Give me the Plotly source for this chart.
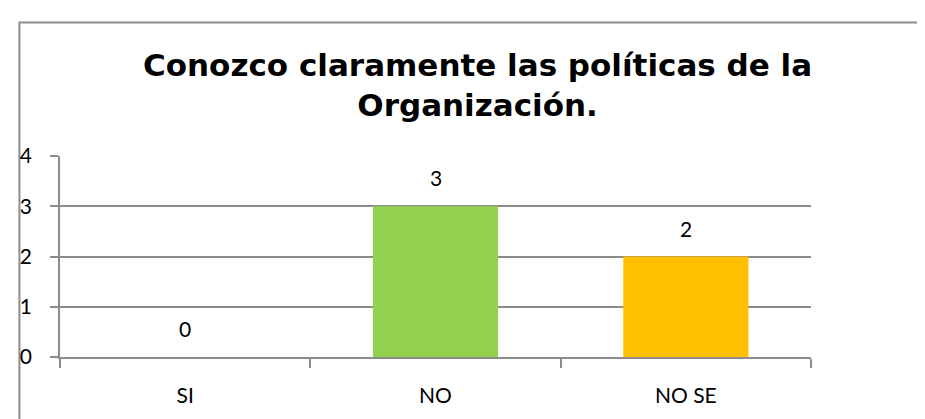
import plotly.graph_objects as go

categories = ["SI", "NO", "NO SE"]
values = [0, 3, 2]
bar_colors = ["#4F81BD", "#92D050", "#FFC000"]
y_ticks = [0, 1, 2, 3, 4]
title_text = "Conozco claramente las políticas de la<br>Organización."

# page has an 8px body margin; figure sized so it fits the 925x419 window
W, H = 917, 411
L, R, T, B = 44, 114, 148, 46

fig = go.Figure()
fig.add_trace(go.Bar(
    x=categories, y=values,
    marker=dict(color=bar_colors, line=dict(width=0)),
    width=0.5,
    hoverinfo="skip",
))

for c, v in zip(categories, values):
    fig.add_annotation(
        x=c, y=v, xref="x", yref="y", text=str(v), showarrow=False,
        yanchor="bottom", yshift=14,
        font=dict(family="Lato", size=21, color="#000000"),
    )

pw = W - L - R
ph = H - T - B
fig.add_annotation(
    x=(466 - L) / pw, y=(H - B - 71) / ph, xref="paper", yref="paper",
    text="<b>" + title_text + "</b>", showarrow=False,
    xanchor="center", yanchor="middle", align="center",
    font=dict(family="DejaVu Sans", size=31, color="#000000"),
)

fig.add_shape(
    type="rect", xref="paper", yref="paper",
    x0=(3 - L) / pw, x1=(935 - L) / pw,
    y0=-0.5, y1=(H - B - 4) / ph,
    line=dict(color="#8c8c8c", width=2), fillcolor="rgba(0,0,0,0)",
    layer="below",
)

fig.update_layout(
    width=W, height=H,
    margin=dict(l=L, r=R, t=T, b=B, pad=0),
    paper_bgcolor="white", plot_bgcolor="white",
    showlegend=False,
    bargap=0.5,
    font=dict(family="Lato", size=21, color="#000000"),
)
fig.update_xaxes(
    type="category", showgrid=False,
    showline=True, linecolor="#8c8c8c", linewidth=1.5,
    ticks="outside", tickson="boundaries", ticklen=9, tickcolor="#8c8c8c", tickwidth=1.5,
    ticklabelstandoff=19,
    tickfont=dict(family="Lato", size=21, color="#000000"),
)
fig.update_yaxes(
    range=[0, 4], tickvals=y_ticks,
    showgrid=True, gridcolor="#8c8c8c", gridwidth=1.5,
    showline=True, linecolor="#8c8c8c", linewidth=1.5,
    ticks="outside", ticklen=8, tickcolor="#8c8c8c", tickwidth=1.5,
    ticklabelstandoff=14,
    zeroline=False,
    tickfont=dict(family="Lato", size=21, color="#000000"),
)

fig.write_html("out.html")
